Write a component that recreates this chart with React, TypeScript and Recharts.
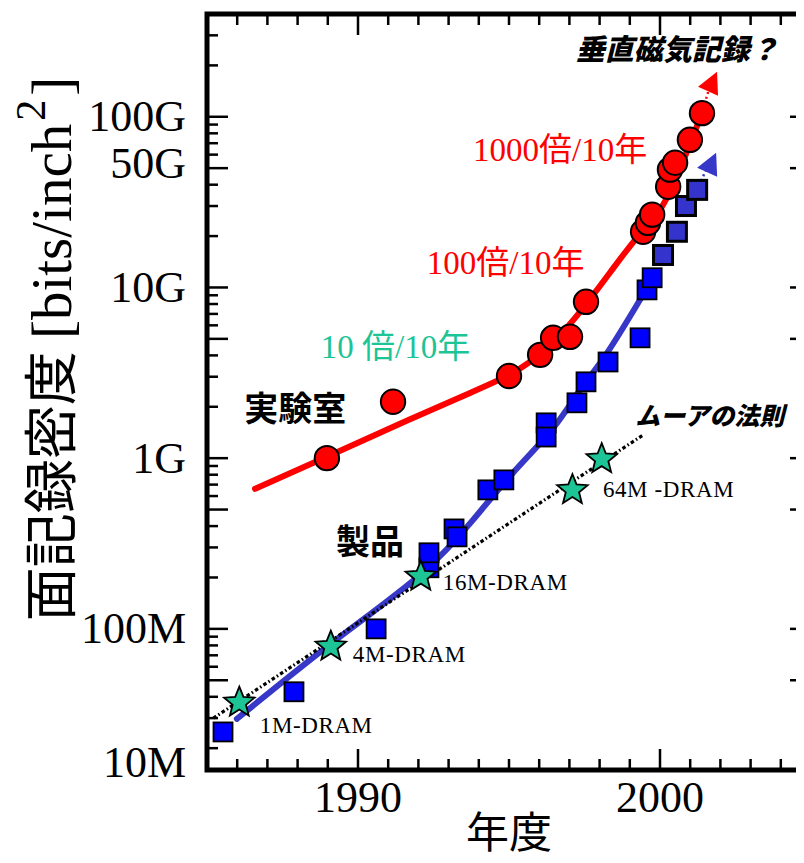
import {
  ComposedChart,
  Line,
  Scatter,
  XAxis,
  YAxis,
  ReferenceArea,
  ReferenceDot,
  Label,
} from "recharts";

// axis range (the frame bottom sits a little above 10M in the source figure)
const YMIN = 1.49e7;
const YMAX = 4e11;
const XMIN = 1985;
const XMAX = 2005;

// 実験室 (lab demos)
const labYears = [1988.97, 1991.16, 1995.0, 1996.03, 1996.46, 1997.02, 1997.55, 1999.44, 1999.6, 1999.74, 2000.27, 2000.33, 2000.5, 2000.99, 2001.39];
const labDensity = [1.0e9, 2.14e9, 3.03e9, 4.03e9, 5.07e9, 5.14e9, 8.24e9, 2.12e10, 2.39e10, 2.67e10, 3.89e10, 4.9e10, 5.38e10, 7.33e10, 1.05e11];

// 製品 (products)
const productYears = [1985.53, 1987.88, 1990.6, 1992.35, 1992.35, 1993.18, 1993.28, 1994.3, 1994.83, 1996.23, 1996.23, 1997.25, 1997.55, 1998.28, 1999.34, 1999.57, 1999.74];
const productDensity = [2.49e7, 4.28e7, 1.0e8, 2.28e8, 2.79e8, 3.85e8, 3.46e8, 6.52e8, 7.46e8, 1.61e9, 1.33e9, 2.11e9, 2.8e9, 3.66e9, 5.07e9, 9.68e9, 1.14e10];
const recentYears = [2000.1, 2000.56, 2000.86, 2001.23];
const recentDensity = [1.55e10, 2.12e10, 3.0e10, 3.73e10];

// trend curves
const labFitYears = [1986.59, 1988.97, 1991.39, 1993.71, 1995.13, 1996.19, 1997.19, 1998.34, 1999.34, 2000.23, 2001.39];
const labFitDensity = [6.61e8, 1.02e9, 1.59e9, 2.41e9, 3.16e9, 4.31e9, 6.64e9, 1.22e10, 2.06e10, 3.35e10, 1.05e11];
const productFitYears = [1985.99, 1989.14, 1992.05, 1993.81, 1995.13, 1996.46, 1997.35, 1998.25, 1999.34, 1999.77];
const productFitDensity = [2.97e7, 8.28e7, 2.07e8, 4.35e8, 8.2e8, 1.5e9, 2.51e9, 4.14e9, 8.47e9, 1.11e10];
const mooreYears = [1985.21, 1999.45];
const mooreDensity = [3.0e7, 1.37e9];

// DRAM generations
const dramYears = [1986.07, 1989.1, 1992.08, 1997.1, 1998.07];
const dramDensity = [3.75e7, 7.98e7, 2.05e8, 6.59e8, 1.0e9];

// outlook arrows (垂直磁気記録)
const labArrowYears = [2001.39, 2001.62];
const labArrowDensity = [1.05e11, 1.45e11];
const productArrowYears = [2001.23, 2001.55];
const productArrowDensity = [3.73e10, 5.0e10];
const arrowHeadYears = [2001.69, 2001.66];
const arrowHeadDensity = [1.54e11, 5.16e10];

// ticks
const xTicks = [1986, 1987, 1988, 1989, 1990, 1991, 1992, 1993, 1994, 1995, 1996, 1997, 1998, 1999, 2000, 2001, 2002, 2003, 2004];
const xLabelYears = [1990, 2000];
const yLabelValues = [1e11, 5e10, 1e10, 1e9, 1e8, YMIN];
const yLabelTexts = ["100G", "50G", "10G", "1G", "100M", "10M"];

// annotations: anchor = left edge / vertical centre of the text, in data units
const noteYears = [1997.32, 1993.81, 1992.28, 1988.77, 1986.23, 1989.27, 1999.27, 1986.75, 1989.83, 1992.81, 1998.11];
const noteDensity = [2.54e11, 6.41e10, 1.39e10, 4.49e9, 2.0e9, 3.32e8, 1.8e9, 2.71e7, 7.04e7, 1.86e8, 6.52e8];
const noteTexts = ["垂直磁気記録？", "1000倍/10年", "100倍/10年", "10 倍/10年", "実験室", "製品", "ムーアの法則", "1M-DRAM", "4M-DRAM", "16M-DRAM", "64M -DRAM"];
const noteKinds = ["slanted", "red", "red", "teal", "bold", "bold", "slantedSmall", "dram", "dram", "dram", "dram"];

const yTicks: number[] = [YMIN];
for (let d = 7; d <= 11; d++) {
  for (let m = 1; m <= 9; m++) {
    const v = m * Math.pow(10, d);
    if (v > YMIN && v <= YMAX) yTicks.push(v);
  }
}

const rows = (xs: number[], ys: number[]) => xs.map((x, i) => ({ x, y: ys[i] }));

const SERIF = "'Liberation Serif', 'Times New Roman', serif";
const CJK = "'Noto Sans CJK JP', sans-serif";
const MIXED = "'Liberation Serif', 'Noto Sans CJK JP', serif";

const RED = "#ff0000";
const TEAL = "#1dc496";
const BLUE = "#0000ff";
const DARK_BLUE = "#3434cc";
const LINE_BLUE = "#3737c8";

const noteStyle: Record<string, any> = {
  slanted: { fontFamily: CJK, fontSize: 29, fontWeight: 900, fill: "#000", skew: true },
  slantedSmall: { fontFamily: CJK, fontSize: 25, fontWeight: 900, fill: "#000", skew: true },
  red: { fontFamily: MIXED, fontSize: 33, fill: RED },
  teal: { fontFamily: MIXED, fontSize: 33, fill: TEAL },
  bold: { fontFamily: CJK, fontSize: 34, fontWeight: 700, fill: "#000" },
  dram: { fontFamily: SERIF, fontSize: 23, fill: "#000", spacing: 0.6 },
};

function starPoints(cx: number, cy: number, R: number, r: number) {
  const pts: string[] = [];
  for (let i = 0; i < 10; i++) {
    const a = -Math.PI / 2 + (i * Math.PI) / 5;
    const rad = i % 2 === 0 ? R : r;
    pts.push(`${cx + rad * Math.cos(a)},${cy + rad * Math.sin(a)}`);
  }
  return pts.join(" ");
}

function YTick(props: any) {
  const { x, y, payload, side } = props;
  const v = payload.value as number;
  const mant = Math.round(v / Math.pow(10, Math.floor(Math.log10(v) + 1e-9)));
  const len = mant === 1 || mant === 5 ? 21 : 11;
  const dir = side === "left" ? 1 : -1;
  const idx = yLabelValues.indexOf(v);
  const edge = v === YMIN;
  let dy = 0;
  if (edge) dy = -8;
  if (v === 5e10) dy = -5;
  return (
    <g>
      {!edge && <line x1={x} y1={y} x2={x + dir * len} y2={y} stroke="#000" strokeWidth={2.5} />}
      {side === "left" && idx >= 0 && (
        <text x={x - 21} y={y + dy} textAnchor="end" dominantBaseline="central" fontFamily={SERIF} fontSize={44} fill="#000">
          {yLabelTexts[idx]}
        </text>
      )}
    </g>
  );
}

function XTick(props: any) {
  const { x, y, payload, side } = props;
  const v = payload.value as number;
  const major = v % 10 === 0;
  const len = major ? 21 : 11;
  const dir = side === "bottom" ? -1 : 1;
  return (
    <g>
      <line x1={x} y1={y} x2={x} y2={y + dir * len} stroke="#000" strokeWidth={2.5} />
      {side === "bottom" && xLabelYears.includes(v) && (
        <text x={x} y={y + 42} textAnchor="middle" fontFamily={SERIF} fontSize={44} fill="#000">
          {v}
        </text>
      )}
    </g>
  );
}

const renderYTitle = (props: any) => {
  const vb = props.viewBox;
  const cx = vb.x - 36;
  const cy = vb.y + vb.height / 2 - 43;
  return (
    <text x={cx} y={cy} transform={`rotate(-90 ${cx} ${cy})`} textAnchor="middle" fill="#000">
      <tspan fontFamily={CJK} fontSize={54}>面記録密度 </tspan>
      <tspan fontFamily={SERIF} fontSize={57}>[bits/inch</tspan>
      <tspan fontFamily={SERIF} fontSize={42} dy={-26} dx={3}>2</tspan>
      <tspan fontFamily={SERIF} fontSize={57} dy={26} dx={4}>]</tspan>
    </text>
  );
};

const renderXTitle = (props: any) => {
  const vb = props.viewBox;
  return (
    <text x={vb.x + vb.width / 2} y={vb.y + 78} textAnchor="middle" fontFamily={CJK} fontSize={43} fill="#000">
      年度
    </text>
  );
};

const circleShape = (p: any) => <circle cx={p.cx} cy={p.cy} r={12.2} fill={RED} stroke="#000" strokeWidth={2} />;
const squareShape = (fill: string, sw: number) => (p: any) =>
  <rect x={p.cx - 9.5} y={p.cy - 9.5} width={19} height={19} fill={fill} stroke="#000" strokeWidth={sw} />;
const starShape = (p: any) => <polygon points={starPoints(p.cx, p.cy + 1, 16, 7)} fill={TEAL} stroke="#000" strokeWidth={1.8} />;
const arrowShape = (fill: string) => (p: any) =>
  <polygon points={`${p.cx - 13},${p.cy + 2} ${p.cx + 6},${p.cy - 13} ${p.cx + 7},${p.cy + 11}`} fill={fill} />;

export default function App() {
  const ax = { xAxisId: "b", yAxisId: "l" } as const;
  return (
    <div style={{ width: 796, height: 855, overflow: "hidden" }}>
      <ComposedChart width={830} height={855} margin={{ top: 5, right: 17, bottom: 13, left: 99 }}>
        <XAxis
          xAxisId="b"
          type="number"
          dataKey="x"
          domain={[XMIN, XMAX]}
          allowDataOverflow
          ticks={xTicks}
          interval={0}
          tickSize={0}
          tickMargin={0}
          tickLine={false}
          axisLine={false}
          height={80}
          tick={(p: any) => <XTick {...p} side="bottom" />}
        >
          <Label content={renderXTitle} />
        </XAxis>
        <XAxis
          xAxisId="t"
          orientation="top"
          type="number"
          dataKey="x"
          domain={[XMIN, XMAX]}
          allowDataOverflow
          ticks={xTicks}
          interval={0}
          tickSize={0}
          tickMargin={0}
          tickLine={false}
          axisLine={false}
          height={1}
          tick={(p: any) => <XTick {...p} side="top" />}
        />
        <YAxis
          yAxisId="l"
          type="number"
          dataKey="y"
          scale="log"
          domain={[YMIN, YMAX]}
          allowDataOverflow
          ticks={yTicks}
          interval={0}
          tickSize={0}
          tickMargin={0}
          tickLine={false}
          axisLine={false}
          width={100}
          tick={(p: any) => <YTick {...p} side="left" />}
        >
          <Label content={renderYTitle} />
        </YAxis>
        <YAxis
          yAxisId="r"
          orientation="right"
          type="number"
          dataKey="y"
          scale="log"
          domain={[YMIN, YMAX]}
          allowDataOverflow
          ticks={yTicks}
          interval={0}
          tickSize={0}
          tickMargin={0}
          tickLine={false}
          axisLine={false}
          width={10}
          tick={(p: any) => <YTick {...p} side="right" />}
        />

        <Line {...ax} data={rows(labFitYears, labFitDensity)} dataKey="y" type="natural" stroke={RED} strokeWidth={6} strokeLinecap="round" dot={false} activeDot={false} isAnimationActive={false} />
        <Line {...ax} data={rows(labArrowYears, labArrowDensity)} dataKey="y" stroke={RED} strokeWidth={2.5} strokeDasharray="2 3" dot={false} activeDot={false} isAnimationActive={false} />
        <Scatter {...ax} data={rows(labYears, labDensity)} shape={circleShape} isAnimationActive={false} />
        <Scatter {...ax} data={rows(productYears, productDensity)} shape={squareShape(BLUE, 1.8)} isAnimationActive={false} />
        <Scatter {...ax} data={rows(recentYears, recentDensity)} shape={squareShape(DARK_BLUE, 3)} isAnimationActive={false} />
        <Line {...ax} data={rows(productArrowYears, productArrowDensity)} dataKey="y" stroke={LINE_BLUE} strokeWidth={2.5} strokeDasharray="2 3" dot={false} activeDot={false} isAnimationActive={false} />
        <Line {...ax} data={rows(productFitYears, productFitDensity)} dataKey="y" type="natural" stroke={LINE_BLUE} strokeWidth={6} strokeLinecap="round" dot={false} activeDot={false} isAnimationActive={false} />
        <Line {...ax} data={rows(mooreYears, mooreDensity)} dataKey="y" stroke="#000" strokeWidth={3.2} strokeDasharray="3.5 2.5 1.5 2.5" dot={false} activeDot={false} isAnimationActive={false} />
        <Scatter {...ax} data={rows(dramYears, dramDensity)} shape={starShape} isAnimationActive={false} />
        <Scatter {...ax} data={rows(arrowHeadYears.slice(0, 1), arrowHeadDensity.slice(0, 1))} shape={arrowShape(RED)} isAnimationActive={false} />
        <Scatter {...ax} data={rows(arrowHeadYears.slice(1), arrowHeadDensity.slice(1))} shape={arrowShape(LINE_BLUE)} isAnimationActive={false} />

        {noteTexts.map((t, i) => {
          const st = noteStyle[noteKinds[i]];
          return (
            <ReferenceDot
              key={t}
              {...ax}
              x={noteYears[i]}
              y={noteDensity[i]}
              r={0}
              ifOverflow="visible"
              shape={(p: any) => (
                <text
                  x={st.skew ? 0 : p.cx}
                  y={st.skew ? 0 : p.cy}
                  transform={st.skew ? `translate(${p.cx} ${p.cy}) skewX(-14)` : undefined}
                  dominantBaseline="central"
                  fontFamily={st.fontFamily}
                  fontSize={st.fontSize}
                  fontWeight={st.fontWeight}
                  letterSpacing={st.spacing}
                  fill={st.fill}
                >
                  {t}
                </text>
              )}
            />
          );
        })}

        <ReferenceArea {...ax} x1={XMIN} x2={XMAX} y1={YMIN} y2={YMAX} fill="none" stroke="#000" strokeWidth={5} ifOverflow="visible" />
      </ComposedChart>
    </div>
  );
}
